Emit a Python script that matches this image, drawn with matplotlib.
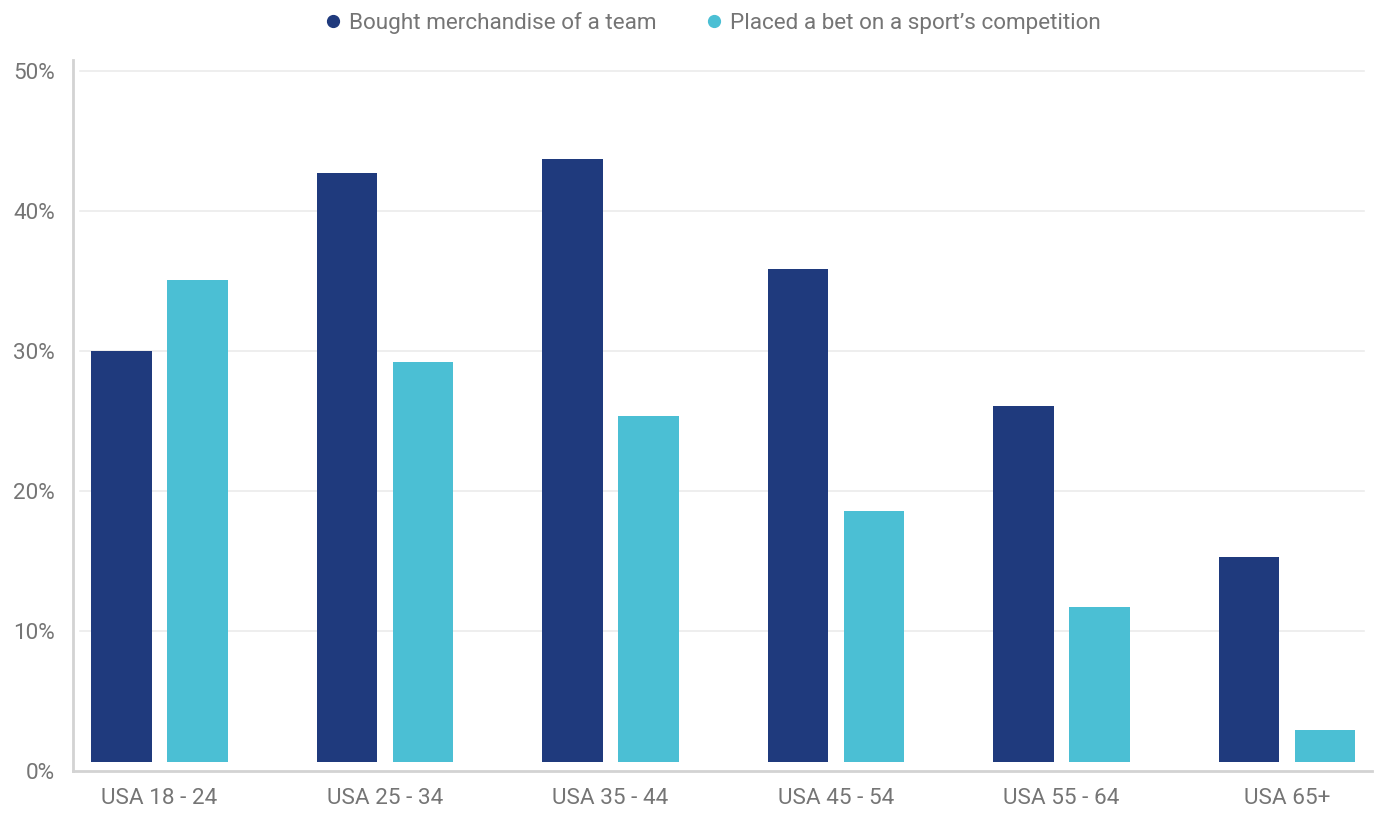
import matplotlib.pyplot as plt
from matplotlib.lines import Line2D
import numpy as np

plt.rcParams['font.family'] = ['Roboto', 'DejaVu Sans']

groups = ['USA 18 - 24', 'USA 25 - 34', 'USA 35 - 44', 'USA 45 - 54', 'USA 55 - 64', 'USA 65+']
merch = [30.0, 42.7, 43.7, 35.9, 26.1, 15.3]
bet = [35.1, 29.2, 25.4, 18.6, 11.7, 2.9]
series_names = ['Bought merchandise of a team', "Placed a bet on a sport\u2019s competition"]
yticks = [0, 10, 20, 30, 40, 50]

dark = '#1f3a7d'
light = '#4bbfd4'
grey = '#757575'

fig = plt.figure(figsize=(13.8, 8.14), dpi=100)
ax = fig.add_axes([73 / 1380, 43 / 814, 1299 / 1380, 711 / 814])

x = np.arange(len(groups))
w = 0.27
off = 0.1685
base = 0.64  # bars float a little above the axis line
ax.bar(x - off, np.array(merch) - base, w, bottom=base, color=dark, zorder=3)
ax.bar(x + off, np.array(bet) - base, w, bottom=base, color=light, zorder=3)

for v in yticks[1:]:
    ax.axhline(v, xmin=0.0054, xmax=0.9938, color='#ebebeb', lw=1.2, zorder=1)

ax.set_xlim(-0.3836, 5.377)
ax.set_ylim(0, 50.8)
ax.set_xticks(x)
ax.set_xticklabels(groups)
ax.set_yticks(yticks)
ax.set_yticklabels([f'{v}%' for v in yticks])
ax.tick_params(length=0, labelsize=16.2, labelcolor=grey)
ax.tick_params(axis='y', pad=13)
ax.tick_params(axis='x', pad=12)

for s in ['top', 'right']:
    ax.spines[s].set_visible(False)
for s in ['left', 'bottom']:
    ax.spines[s].set_color('#d3d3d3')
    ax.spines[s].set_linewidth(2)

handles = [Line2D([], [], ls='', marker='o', ms=8.5, color=c) for c in (dark, light)]
fig.legend(handles, series_names, loc='center', bbox_to_anchor=(0.5145, 0.972), ncol=2,
           frameon=False, fontsize=16.2, labelcolor=grey, handletextpad=0.1,
           columnspacing=1.95, handlelength=1.2)

fig.savefig('out.png', dpi=100)
